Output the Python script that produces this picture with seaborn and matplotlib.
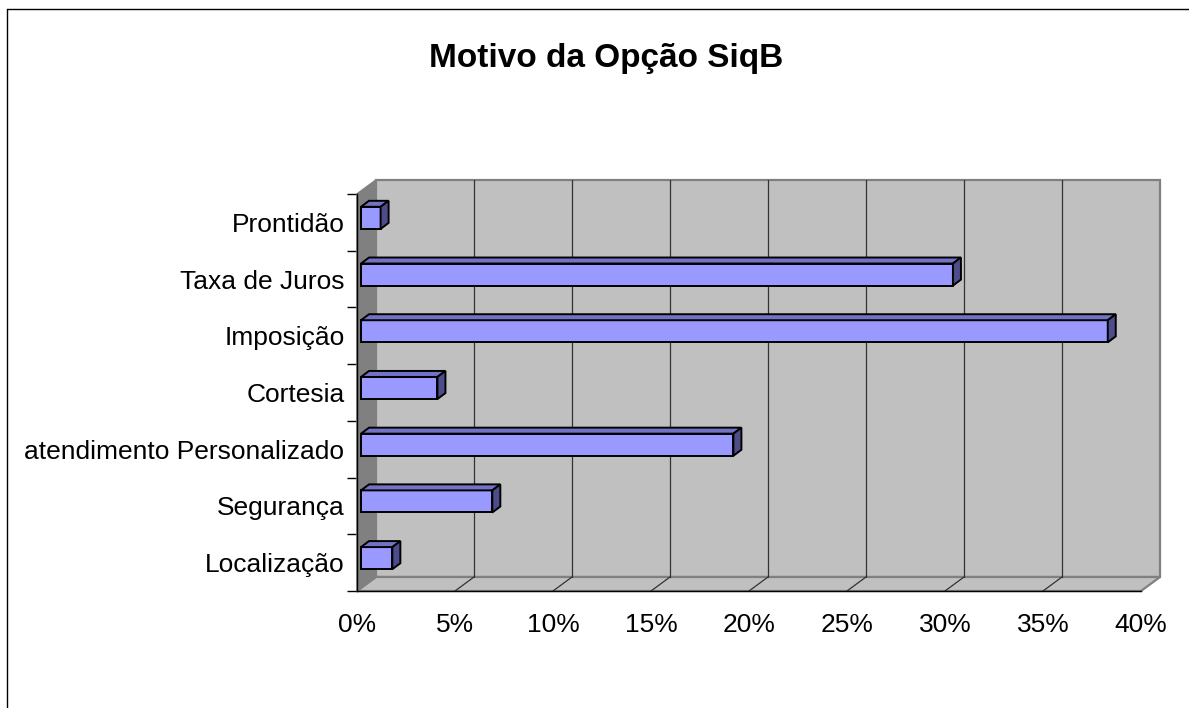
import matplotlib
matplotlib.use("Agg")
import matplotlib.pyplot as plt
import matplotlib.transforms as mtransforms
from matplotlib.patches import Polygon
from matplotlib.lines import Line2D
import numpy as np
import pandas as pd
import seaborn as sns

# chart data
categories = ["Prontidão", "Taxa de Juros", "Imposição", "Cortesia",
              "atendimento Personalizado", "Segurança", "Localização"]
shares = [0.010, 0.302, 0.381, 0.039, 0.190, 0.067, 0.016]
x_ticks = [0.0, 0.05, 0.10, 0.15, 0.20, 0.25, 0.30, 0.35, 0.40]
x_tick_labels = ["0%", "5%", "10%", "15%", "20%", "25%", "30%", "35%", "40%"]
title = "Motivo da Opção SiqB"

# colours (Excel 3D look)
bar_front = "#9999FF"
bar_top = "#7373C6"
bar_side = "#4D4D8C"
wall_back = "#C0C0C0"
wall_left = "#808080"
wall_edge = "#808080"

sns.set_theme(style="white")
plt.rcParams["font.family"] = ["Liberation Sans", "DejaVu Sans"]
plt.rcParams["text.color"] = "black"
plt.rcParams["xtick.color"] = "black"
plt.rcParams["ytick.color"] = "black"

W, H = 1189, 708
fig = plt.figure(figsize=(W / 100, H / 100), dpi=100)
# front plane of the 3D box
ax = fig.add_axes([357 / W, 1 - 591 / H, 784 / W, 397 / H])

df = pd.DataFrame({"motivo": categories, "share": shares})
sns.barplot(data=df, x="share", y="motivo", orient="h", color=bar_front,
            saturation=1, width=0.39, edgecolor="black", linewidth=1.4,
            ax=ax, zorder=3)
ax.set_xlim(0, 0.40)
ax.set_ylim(len(categories) - 0.5, -0.5)

bars = list(ax.patches)


def px(x, y, dx=0.0, dy=0.0):
    """data point shifted by (dx, dy) display pixels, back in data units"""
    d = ax.transData.transform((x, y)) + np.array([dx, dy])
    return ax.transData.inverted().transform(d)


# depth of the walls and placement of the bars inside the box
wx, wy = 19, 14
bx, by = 4, 4.5
ddx, ddy = 8, 6

y_lo, y_hi = -0.5, len(categories) - 0.5
x_lo, x_hi = 0.0, 0.40

back = Polygon([px(x_lo, y_hi, wx, wy), px(x_hi, y_hi, wx, wy),
                px(x_hi, y_lo, wx, wy), px(x_lo, y_lo, wx, wy)],
               closed=True, facecolor=wall_back, edgecolor=wall_edge,
               lw=1.6, zorder=0.5, clip_on=False)
floor = Polygon([px(x_lo, y_hi), px(x_hi, y_hi),
                 px(x_hi, y_hi, wx, wy), px(x_lo, y_hi, wx, wy)],
                closed=True, facecolor=wall_back, edgecolor=wall_edge,
                lw=1.6, zorder=0.6, clip_on=False)
left = Polygon([px(x_lo, y_hi), px(x_lo, y_lo),
                px(x_lo, y_lo, wx, wy), px(x_lo, y_hi, wx, wy)],
               closed=True, facecolor=wall_left, edgecolor=wall_edge,
               lw=1.2, zorder=0.7, clip_on=False)
for p in (back, floor, left):
    ax.add_patch(p)

# gridlines on back wall and floor
for t in x_ticks[1:-1]:
    a, b = px(t, y_hi, wx, wy), px(t, y_lo, wx, wy)
    ax.add_line(Line2D([a[0], b[0]], [a[1], b[1]], color="#333333",
                       lw=0.9, zorder=1, clip_on=False))
    c = px(t, y_hi)
    ax.add_line(Line2D([c[0], a[0]], [c[1], a[1]], color="#333333",
                       lw=0.9, zorder=1, clip_on=False))

# move bars into the box and give them a top and a side face
shift = mtransforms.ScaledTranslation(bx / 100, by / 100, fig.dpi_scale_trans)
for bar in bars:
    bar.set_transform(ax.transData + shift)
    bar.set_clip_on(False)
    x0, y0 = bar.get_x(), bar.get_y()
    x1, y1 = x0 + bar.get_width(), y0 + bar.get_height()
    top = Polygon([px(x0, y0, bx, by), px(x1, y0, bx, by),
                   px(x1, y0, bx + ddx, by + ddy), px(x0, y0, bx + ddx, by + ddy)],
                  closed=True, facecolor=bar_top, edgecolor="black",
                  lw=1.4, zorder=3, clip_on=False, joinstyle="miter")
    side = Polygon([px(x1, y0, bx, by), px(x1, y1, bx, by),
                    px(x1, y1, bx + ddx, by + ddy), px(x1, y0, bx + ddx, by + ddy)],
                   closed=True, facecolor=bar_side, edgecolor="black",
                   lw=1.4, zorder=3, clip_on=False, joinstyle="miter")
    ax.add_patch(top)
    ax.add_patch(side)

# axes, ticks and labels
ax.set_facecolor("white")
for s in ("top", "right"):
    ax.spines[s].set_visible(False)
for s in ("left", "bottom"):
    ax.spines[s].set_color("black")
    ax.spines[s].set_linewidth(1.0)
    ax.spines[s].set_zorder(2)

ax.set_xticks(x_ticks)
ax.set_xticklabels(x_tick_labels)
ax.set_yticks(np.arange(y_lo, y_hi + 0.5, 1.0), minor=True)
ax.tick_params(axis="x", which="major", length=7, width=1, color="black",
               direction="out", pad=9, labelsize=19, labelcolor="black")
ax.tick_params(axis="y", which="major", length=0, pad=9, labelsize=19,
               labelcolor="black")
ax.tick_params(axis="y", which="minor", length=7, width=1, color="black",
               direction="out", left=True)
ax.set_xlabel("")
ax.set_ylabel("")

fig.text(606 / W, 1 - 58 / H, title, ha="center", va="center",
         fontsize=24, fontweight="bold", color="black")

# chart-area frame (clipped on the right and at the bottom)
fig.add_artist(Line2D([7 / W, 1], [1 - 9 / H, 1 - 9 / H], color="black",
                      lw=1, transform=fig.transFigure))
fig.add_artist(Line2D([7 / W, 7 / W], [0, 1 - 9 / H], color="black",
                      lw=1, transform=fig.transFigure))

fig.savefig("out.png", dpi=100, facecolor="white")
